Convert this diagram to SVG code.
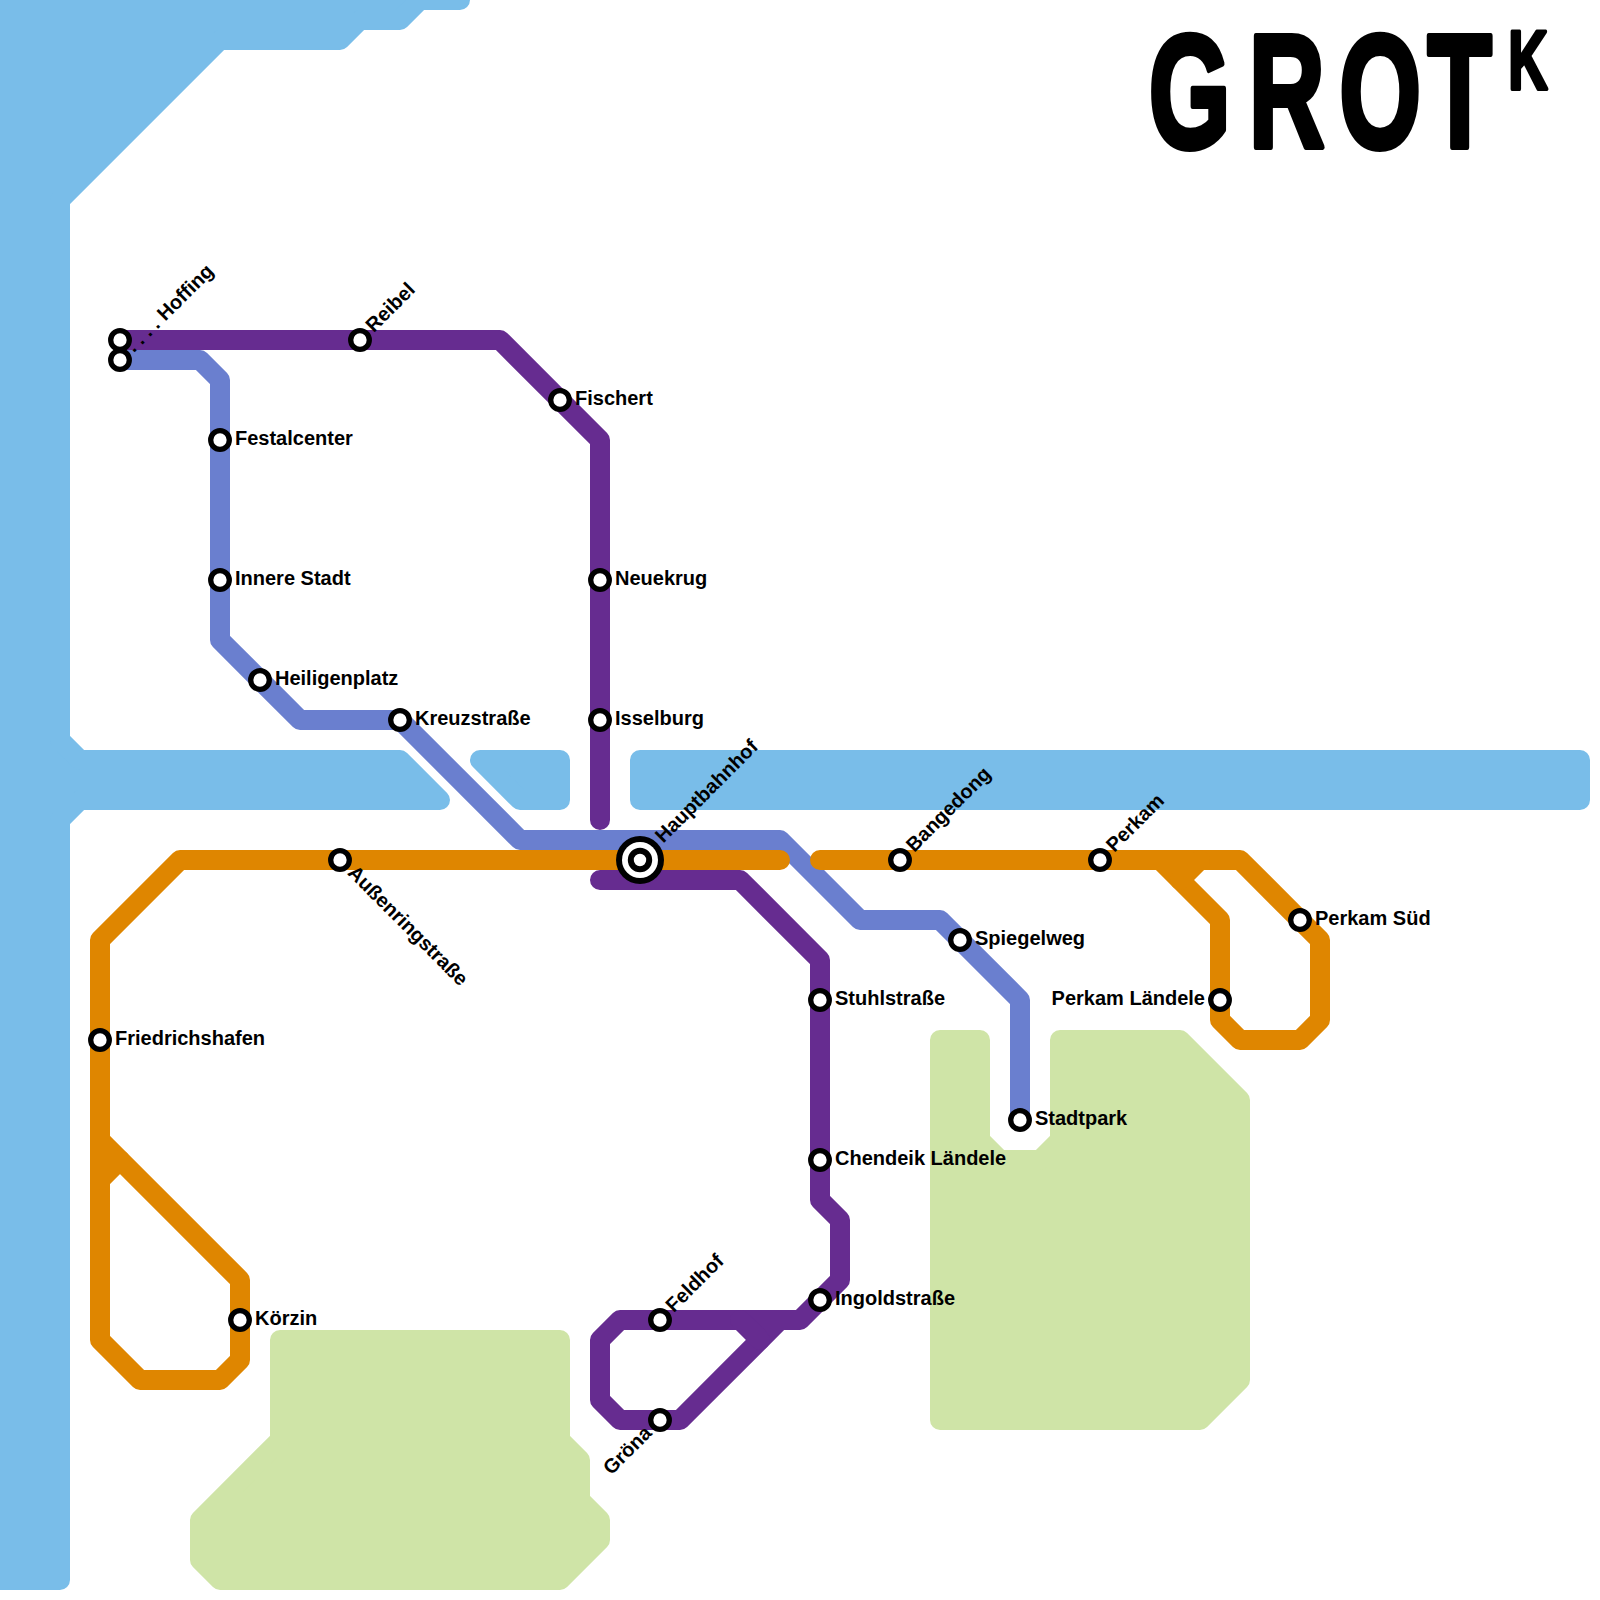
<svg xmlns="http://www.w3.org/2000/svg" width="1600" height="1600" viewBox="0 0 1600 1600">
<style>
.w{fill:#79bde9;stroke:#79bde9;stroke-width:20;stroke-linejoin:round}
.g{fill:#cfe4a7;stroke:#cfe4a7;stroke-width:20;stroke-linejoin:round}
.l{fill:none;stroke-width:20;stroke-linejoin:round;stroke-linecap:round}
.p{stroke:#662c90}.b{stroke:#6a7fcf}.o{stroke:#df8600}
.s{fill:#fff;stroke:#000;stroke-width:5.3}
text{font-family:"Liberation Sans",Arial,sans-serif;font-weight:bold;font-size:20px;fill:#000}
.t{stroke:#000;stroke-width:6;stroke-linejoin:round;font-size:162px}
</style>
<rect width="1600" height="1600" fill="#fff"/>
<g id="water">
<polygon class="w" points="-20,-20 460,-20 460,0 420,0 400,20 360,20 340,40 220,40 60,200 60,740 80,760 400,760 440,800 80,800 60,820 60,1580 -20,1580"/>
<polygon class="w" points="480,760 560,760 560,800 520,800"/>
<polygon class="w" points="640,760 1580,760 1580,800 640,800"/>
</g>
<g id="parks">
<polygon class="g" points="280,1340 560,1340 560,1440 580,1460 580,1500 600,1520 600,1540 560,1580 220,1580 200,1560 200,1520 280,1440"/>
<polygon class="g" points="940,1040 980,1040 980,1140 1000,1160 1040,1160 1060,1140 1060,1040 1180,1040 1240,1100 1240,1380 1200,1420 940,1420"/>
</g>
<g id="title"><text class="t" transform="translate(1150 147) scale(0.65 1)" x="-2 152 291 427" y="0">GROT<tspan x="551" y="-58" font-size="84px" style="stroke-width:4px">K</tspan></text></g>
<g id="connectors">
<path class="l b" d="M120,360H200L220,380V640L300,720H400L520,840H780L860,920H940L1020,1000V1120"/>
<path class="l p" d="M120,340H500L600,440V820"/>
<path class="l p" d="M600,880H740L820,960V1200L840,1220V1280L800,1320H620L600,1340V1400L620,1420H680L780,1320"/>
<path class="l p" d="M740,1320L760,1340"/>
<path class="l o" d="M780,860H180L100,940V1340L140,1380H220L240,1360V1280L100,1140"/>
<path class="l o" d="M120,1160L100,1180"/>
<path class="l o" d="M820,860H1240L1320,940V1020L1300,1040H1240L1220,1020V920L1160,860"/>
<path class="l o" d="M1180,880L1200,860"/>
</g>
<g id="st-hoffing-a"><circle class="s" cx="120" cy="340" r="9.3"/></g>
<g id="st-hoffing"><circle class="s" cx="120" cy="360" r="9.3"/><text x="134.5" y="365" transform="rotate(-45 120 360)">. . . . Hoffing</text></g>
<g id="st-reibel"><circle class="s" cx="360" cy="340" r="9.3"/><text x="374.5" y="345" transform="rotate(-45 360 340)">Reibel</text></g>
<g id="st-fischert"><circle class="s" cx="560" cy="400" r="9.3"/><text x="575" y="405">Fischert</text></g>
<g id="st-festalcenter"><circle class="s" cx="220" cy="440" r="9.3"/><text x="235" y="445">Festalcenter</text></g>
<g id="st-innere"><circle class="s" cx="220" cy="580" r="9.3"/><text x="235" y="585">Innere Stadt</text></g>
<g id="st-heiligenplatz"><circle class="s" cx="260" cy="680" r="9.3"/><text x="275" y="685">Heiligenplatz</text></g>
<g id="st-kreuzstrasse"><circle class="s" cx="400" cy="720" r="9.3"/><text x="415" y="725">Kreuzstraße</text></g>
<g id="st-neuekrug"><circle class="s" cx="600" cy="580" r="9.3"/><text x="615" y="585">Neuekrug</text></g>
<g id="st-isselburg"><circle class="s" cx="600" cy="720" r="9.3"/><text x="615" y="725">Isselburg</text></g>
<g id="st-hauptbahnhof"><circle cx="640" cy="860" r="24" fill="#000"/><circle cx="640" cy="860" r="18" fill="#fff"/><circle class="s" cx="640" cy="860" r="9.2" style="stroke-width:6"/><text x="668" y="865" transform="rotate(-45 640 860)">Hauptbahnhof</text></g>
<g id="st-aussenring"><circle class="s" cx="340" cy="860" r="9.3"/><text x="354.5" y="865" transform="rotate(45 340 860)">Außenringstraße</text></g>
<g id="st-bangedong"><circle class="s" cx="900" cy="860" r="9.3"/><text x="915" y="865" transform="rotate(-45 900 860)">Bangedong</text></g>
<g id="st-perkam"><circle class="s" cx="1100" cy="860" r="9.3"/><text x="1115" y="865" transform="rotate(-45 1100 860)">Perkam</text></g>
<g id="st-perkam-sued"><circle class="s" cx="1300" cy="920" r="9.3"/><text x="1315" y="925">Perkam Süd</text></g>
<g id="st-perkam-laendele"><circle class="s" cx="1220" cy="1000" r="9.3"/><text x="1205" y="1005" text-anchor="end">Perkam Ländele</text></g>
<g id="st-spiegelweg"><circle class="s" cx="960" cy="940" r="9.3"/><text x="975" y="945">Spiegelweg</text></g>
<g id="st-stadtpark"><circle class="s" cx="1020" cy="1120" r="9.3"/><text x="1035" y="1125">Stadtpark</text></g>
<g id="st-stuhlstrasse"><circle class="s" cx="820" cy="1000" r="9.3"/><text x="835" y="1005">Stuhlstraße</text></g>
<g id="st-chendeik"><circle class="s" cx="820" cy="1160" r="9.3"/><text x="835" y="1165">Chendeik Ländele</text></g>
<g id="st-ingoldstrasse"><circle class="s" cx="820" cy="1300" r="9.3"/><text x="835" y="1305">Ingoldstraße</text></g>
<g id="st-feldhof"><circle class="s" cx="660" cy="1320" r="9.3"/><text x="674.5" y="1325" transform="rotate(-45 660 1320)">Feldhof</text></g>
<g id="st-groena"><circle class="s" cx="660" cy="1420" r="9.3"/><text x="645" y="1425" text-anchor="end" transform="rotate(-45 660 1420)">Gröna</text></g>
<g id="st-friedrichshafen"><circle class="s" cx="100" cy="1040" r="9.3"/><text x="115" y="1045">Friedrichshafen</text></g>
<g id="st-koerzin"><circle class="s" cx="240" cy="1320" r="9.3"/><text x="255" y="1325">Körzin</text></g>
</svg>
